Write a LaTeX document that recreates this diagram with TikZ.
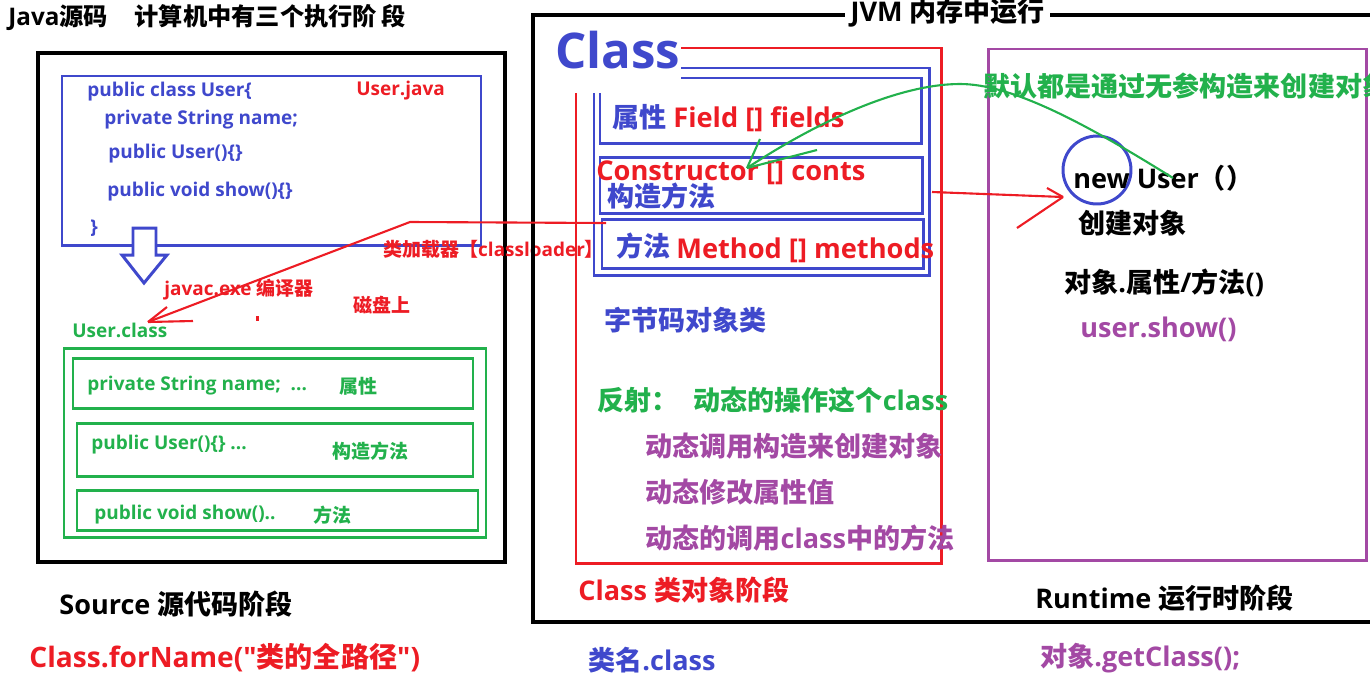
\documentclass[tikz,border=0pt]{standalone}
\usepackage{fontspec}
\setmainfont{Open Sans}
\newfontfamily\latin{Open Sans}
\newfontfamily\cjk{Noto Sans CJK SC}
\usetikzlibrary{arrows}
\definecolor{pblue}{RGB}{63,72,204}
\definecolor{pred}{RGB}{237,28,36}
\definecolor{pgreen}{RGB}{34,177,76}
\definecolor{ppurple}{RGB}{163,73,164}

\begin{document}
\begin{tikzpicture}[x=0.02cm,y=-0.02cm,
  lbl/.style={anchor=west,inner sep=0pt},
  fs/.style={font=\bfseries\fontsize{10.8}{12}\selectfont},
  ft/.style={font=\bfseries\fontsize{13.8}{16}\selectfont},
  fm/.style={font=\bfseries\fontsize{15.5}{18}\selectfont},
  fb/.style={font=\bfseries\fontsize{15.4}{18}\selectfont},
  box/.style={line width=1.7pt},
  thick box/.style={line width=2.8pt},
  hand/.style={line width=1.2pt,pred}]
  \useasboundingbox (0,0) rectangle (1370,684);

  % source stage
  \draw[thick box] (38,53) rectangle (505,562);
  \draw[box,pblue] (62,76) rectangle (481,245);
  \draw[box,pblue,fill=white] (133,228) -- (156,228) -- (156,255) -- (167,255)
    -- (144,283) -- (122,255) -- (133,255) -- cycle;
  \draw[box,pgreen] (64,348) rectangle (486,537);
  \draw[box,pgreen] (73,358) rectangle (473,408);
  \draw[box,pgreen] (77,423) rectangle (473,476);
  \draw[box,pgreen] (77,490) rectangle (478,530);

  \node[lbl,ft] (title) at (8,17) {Java{\cjk 源码}\hspace{1.1em}{\cjk 计算机中有三个执行阶\,段}};
  \node[lbl,fs,pred] (java-file) at (356,91) {User.java};
  \node[lbl,fs,pblue] (code-1) at (87,92) {public class User\{};
  \node[lbl,fs,pblue] (code-2) at (104,120) {private String name;};
  \node[lbl,fs,pblue] (code-3) at (108,154) {public User()\{\}};
  \node[lbl,fs,pblue] (code-4) at (107,192) {public void show()\{\}};
  \node[lbl,fs,pblue] (code-5) at (90,228) {\}};
  \node[lbl,fs,pred] (javac) at (164,290) {javac.exe {\cjk 编译器}};
  \node[lbl,fs,pred] (disk) at (353,305) {\cjk 磁盘上};
  \node[lbl,fs,pred] (loader) at (383,249) {{\cjk 类加载器【}classloader{\cjk 】}};
  \node[lbl,fs,pgreen] (class-file) at (72,330) {User.class};
  \node[lbl,fs,pgreen] (cf-1) at (87,386) {private String name;\ \ ...};
  \node[lbl,fs,pgreen] (cf-1-cn) at (339,386) {\cjk 属性};
  \node[lbl,fs,pgreen] (cf-2) at (91,445) {public User()\{\} ...};
  \node[lbl,fs,pgreen] (cf-2-cn) at (332,451) {\cjk 构造方法};
  \node[lbl,fs,pgreen] (cf-3) at (94,515) {public void show()..};
  \node[lbl,fs,pgreen] (cf-3-cn) at (313,515) {\cjk 方法};
  \node[lbl,fb] (source) at (59,604) {Source {\cjk 源代码阶段}};
  \node[lbl,fb,pred,font=\bfseries\fontsize{16}{18}\selectfont] (forname) at (29,658)
    {Class.forName({\latin"}{\cjk 类的全路径}{\latin"})};

  % class stage
  \draw[thick box] (1380,15) -- (533,15) -- (533,622) -- (1380,622);
  \draw[box,pred] (681,48) -- (941,48) -- (941,563) -- (576,563) -- (576,93);
  \draw[box,pblue] (681,68) -- (929,68) -- (929,275) -- (594,275) -- (594,93);
  \draw[box,pblue] (681,78) -- (921,78) -- (921,143) -- (600,143) -- (600,93);
  \draw[box,pblue] (600,157) rectangle (922,213);
  \draw[box,pblue] (602,219) rectangle (923,268);

  \node[lbl,fb,fill=white,inner xsep=3pt] (jvm) at (845,13) {JVM {\cjk 内存中运行}};
  \node[lbl,pblue,font=\bfseries\fontsize{28}{30}\selectfont] (class-title) at (555,50) {Class};
  \node[lbl,fb,pblue] (field-cn) at (612,117) {\cjk 属性};
  \node[lbl,fm,pred] (field) at (673,119) {Field [] fields};
  \node[lbl,fm,pred] (ctor) at (596,173) {Constructor [] conts};
  \node[lbl,fb,pblue] (ctor-cn) at (607,196) {\cjk 构造方法};
  \node[lbl,fb,pblue] (method-cn) at (616,246) {\cjk 方法};
  \node[lbl,fm,pred] (method) at (676,250) {Method [] methods};
  \node[lbl,fb,pblue] (bytecode) at (604,320) {\cjk 字节码对象类};
  \node[lbl,fb,pgreen] (reflect) at (597,400) {{\cjk 反射：}\hspace{.55em}{\cjk 动态的操作这个}class};
  \node[lbl,fb,ppurple] (reflect-1) at (645,446) {\cjk 动态调用构造来创建对象};
  \node[lbl,fb,ppurple] (reflect-2) at (645,492) {\cjk 动态修改属性值};
  \node[lbl,fb,ppurple] (reflect-3) at (645,538) {{\cjk 动态的调用}class{\cjk 中的方法}};
  \node[lbl,fb,pred] (class-stage) at (578,590) {Class {\cjk 类对象阶段}};
  \node[lbl,fb,pblue] (class-name) at (588,660) {{\cjk 类名}.class};

  % runtime stage
  \draw[box,ppurple] (988,49) rectangle (1366,560);
  \draw[box,pblue] (1097,170) circle[radius=0.68cm];

  \node[lbl,fb,pgreen] (default) at (983,86) {\cjk 默认都是通过无参构造来创建对象};
  \node[lbl,fb] (new-user) at (1073,178) {new User{\cjk （）}};
  \node[lbl,fb] (create) at (1078,223) {\cjk 创建对象};
  \node[lbl,fb] (access) at (1064,283) {{\cjk 对象}.{\cjk 属性}/{\cjk 方法}()};
  \node[lbl,fb,ppurple] (show) at (1080,329) {user.show()};
  \node[lbl,fb] (runtime) at (1035,598) {Runtime {\cjk 运行时阶段}};
  \node[lbl,fb,ppurple] (get-class) at (1040,658) {{\cjk 对象}.getClass();};

  % hand drawn arrows
  \coordinate (ldr-start) at (606,223);
  \coordinate (ldr-bend) at (410,222);
  \coordinate (ldr-tip) at (148,322);
  \draw[hand] (ldr-start) -- (ldr-bend) -- (ldr-tip);
  \draw[hand] (ldr-tip) -- (167,307) (ldr-tip) -- (193,321);
  \coordinate (obj-start) at (932,192);
  \coordinate (obj-tip) at (1063,197);
  \draw[hand] (obj-start) -- (obj-tip);
  \draw[hand] (obj-tip) -- (1047,188) (obj-tip) -- (1017,228);
  \coordinate (ctor-start) at (1173,178);
  \coordinate (ctor-tip) at (747,168);
  \draw[line width=1.2pt,pgreen] (ctor-start) .. controls (1080,120) and (1010,84) .. (960,84)
    .. controls (900,84) and (820,120) .. (ctor-tip);
  \draw[line width=1.2pt,pgreen] (ctor-tip) -- (760,139) (ctor-tip) -- (817,150);
  \fill[pred] (256,316) rectangle (259,321);
\end{tikzpicture}
\end{document}
